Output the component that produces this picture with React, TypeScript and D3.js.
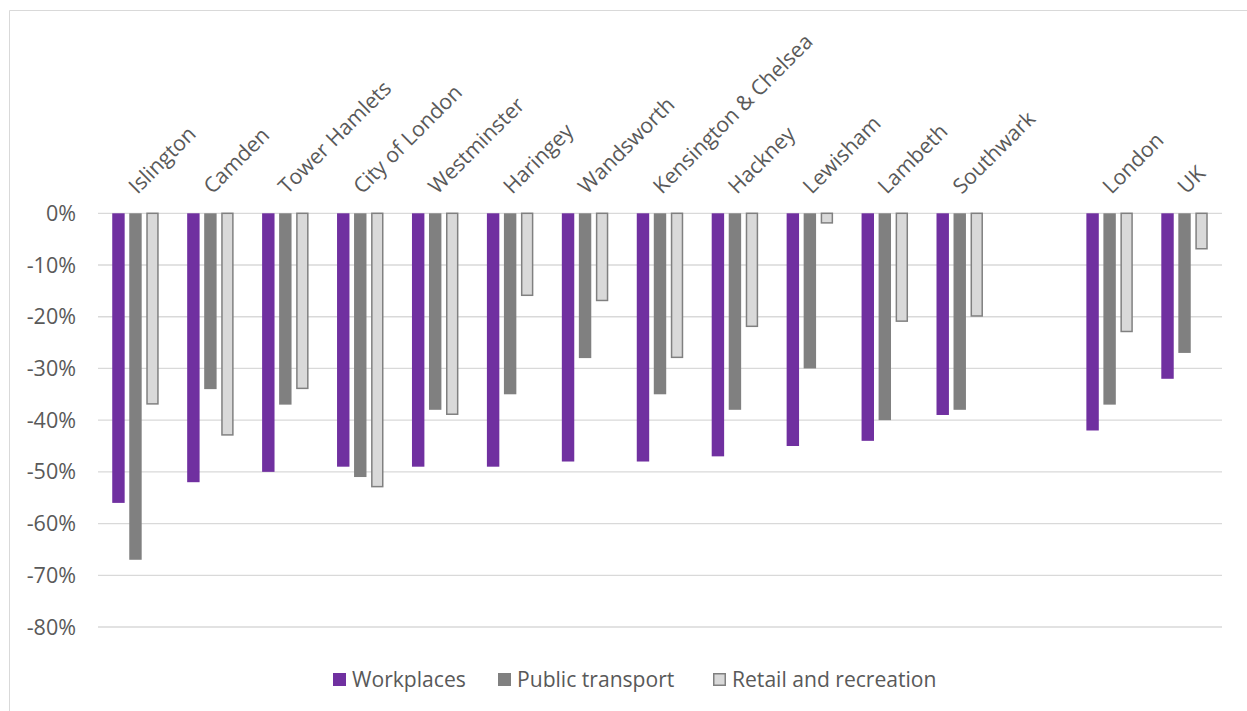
import React from "react";
import * as d3 from "d3";

const categories = ["Islington", "Camden", "Tower Hamlets", "City of London", "Westminster", "Haringey", "Wandsworth", "Kensington & Chelsea", "Hackney", "Lewisham", "Lambeth", "Southwark", "", "London", "UK"];
const workplaces = [-56, -52, -50, -49, -49, -49, -48, -48, -47, -45, -44, -39, null, -42, -32];
const publicTransport = [-67, -34, -37, -51, -38, -35, -28, -35, -38, -30, -40, -38, null, -37, -27];
const retail = [-37, -43, -34, -53, -39, -16, -17, -28, -22, -2, -21, -20, null, -23, -7];
const yTicks = [0, -10, -20, -30, -40, -50, -60, -70, -80];

const seriesNames = ["Workplaces", "Public transport", "Retail and recreation"];
const seriesData = [workplaces, publicTransport, retail];
const fills = ["#7030A0", "#808080", "#D9D9D9"];
const strokes = ["none", "none", "#808080"];

const W = 1247, H = 711;
const plot = { left: 98, right: 1222, top: 213.3, bottom: 627 };
const font = "'Open Sans', 'Noto Sans', sans-serif";
const textColor = "#595959";

export default function App() {
  const x = d3.scaleBand<number>().domain(categories.map((_, i) => i)).range([plot.left, plot.right]).paddingInner(0.38).paddingOuter(0.19);
  const xs = d3.scaleBand<number>().domain([0, 1, 2]).range([0, x.bandwidth()]).paddingInner(0.27);
  const y = d3.scaleLinear().domain([0, -80]).range([plot.top, plot.bottom]);

  const legendItems = [
    { x: 333, tx: 352 },
    { x: 498, tx: 517 },
    { x: 713, tx: 732 },
  ];

  return (
    <svg width={W} height={H} style={{ position: "absolute", left: 0, top: 0, background: "#fff" }}>
      <line x1={9.5} y1={10.5} x2={W} y2={10.5} stroke="#D9D9D9" strokeWidth={1} />
      <line x1={9.5} y1={10.5} x2={9.5} y2={H} stroke="#D9D9D9" strokeWidth={1} />
      {yTicks.map((t) => (
        <g key={t}>
          <line x1={plot.left} x2={plot.right} y1={y(t)} y2={y(t)} stroke="#D9D9D9" strokeWidth={1.3} />
          <text x={76} y={y(t)} dy="0.35em" textAnchor="end" fontFamily={font} fontSize={21.5} fill={textColor}>{t}%</text>
        </g>
      ))}
      {seriesData.map((arr, s) => (
        <g key={s}>
          {arr.map((v, i) => {
            if (v === null) return null;
            const bx = (x(i) as number) + (xs(s) as number);
            const y0 = y(0), y1 = y(v);
            const isStroked = strokes[s] !== "none";
            return (
              <rect key={i}
                x={isStroked ? bx + 0.75 : bx}
                y={y0}
                width={isStroked ? xs.bandwidth() - 1.5 : xs.bandwidth()}
                height={isStroked ? y1 - y0 - 0.75 : y1 - y0}
                fill={fills[s]} stroke={strokes[s]} strokeWidth={isStroked ? 1.5 : 0} />
            );
          })}
        </g>
      ))}
      {categories.map((c, i) => {
        const cx = (x(i) as number) + x.bandwidth() / 2 + 2;
        return (
          <text key={i} transform={`translate(${cx},${195}) rotate(-45)`} textAnchor="start" fontFamily={font} fontSize={21.2} fill={textColor}>{c}</text>
        );
      })}
      {seriesNames.map((n, s) => (
        <g key={n}>
          <rect x={legendItems[s].x + (s === 2 ? 0.75 : 0)} y={673 + (s === 2 ? 0.75 : 0)} width={s === 2 ? 11.5 : 13} height={s === 2 ? 11.5 : 13} fill={fills[s]} stroke={strokes[s]} strokeWidth={s === 2 ? 1.5 : 0} />
          <text x={legendItems[s].tx} y={680} dy="0.35em" fontFamily={font} fontSize={21.1} fill={textColor}>{n}</text>
        </g>
      ))}
    </svg>
  );
}
